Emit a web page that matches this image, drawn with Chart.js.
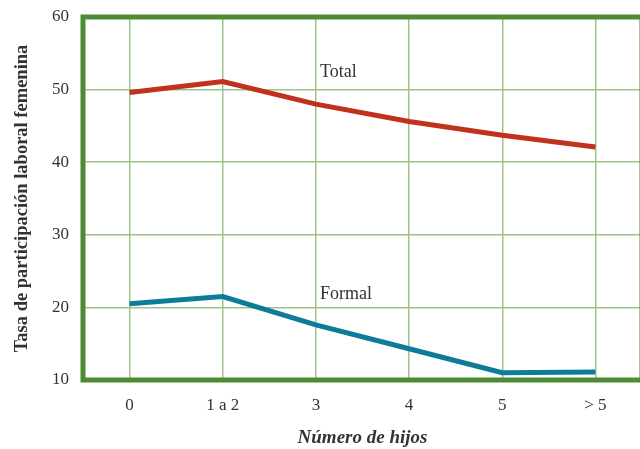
<!DOCTYPE html>
<html>
<head>
<meta charset="utf-8">
<script src="https://cdn.jsdelivr.net/npm/chart.js@4/dist/chart.umd.min.js"></script>
<style>
  html, body { margin: 0; padding: 0; background: #fff; overflow: hidden; }
  #wrap { width: 640px; height: 449px; overflow: hidden; position: relative; }
  #wrap canvas { position: absolute; left: 0; top: 0; }
</style>
</head>
<body>
<div id="wrap"><canvas id="c" width="650" height="449"></canvas></div>
<script>
// Número de hijos (categories)
const categories = ['0', '1 a 2', '3', '4', '5', '> 5'];
// Tasa de participación laboral femenina (%)
const totalRate  = [49.6, 51.1, 48.0, 45.6, 43.7, 42.1];
const formalRate = [20.5, 21.5, 17.6, 14.3, 11.0, 11.1];
// Axis range
const yMin = 10, yMax = 60, yStep = 10;
// Inline series labels: [text, category index, value]
const seriesLabels = [['Total', 2, 52.4], ['Formal', 2, 21.8]];

const FRAME = '#4f8a35';
const GRID = '#9dc38b';
const TEXT = '#333333';
const SERIF = '"Liberation Serif", "DejaVu Serif", serif';

const frameAndLabels = {
  id: 'frameAndLabels',
  afterDatasetsDraw(chart) {
    const { ctx, chartArea: a, scales: { x, y } } = chart;
    ctx.save();
    ctx.strokeStyle = FRAME;
    ctx.lineWidth = 5;
    ctx.strokeRect(a.left, a.top, a.right - a.left, a.bottom - a.top);
    ctx.fillStyle = TEXT;
    ctx.font = '18px ' + SERIF;
    ctx.textAlign = 'left';
    ctx.textBaseline = 'middle';
    seriesLabels.forEach(([t, i, v]) => {
      ctx.fillText(t, x.getPixelForValue(i) + 4, y.getPixelForValue(v));
    });
    ctx.restore();
  }
};

new Chart(document.getElementById('c'), {
  type: 'line',
  data: {
    labels: categories,
    datasets: [
      { label: 'Total', data: totalRate, borderColor: '#c2311d', borderWidth: 5, pointRadius: 0, tension: 0, fill: false },
      { label: 'Formal', data: formalRate, borderColor: '#0e7b99', borderWidth: 5, pointRadius: 0, tension: 0, fill: false }
    ]
  },
  options: {
    responsive: false,
    animation: false,
    layout: { padding: { top: 17, right: 8, left: 0, bottom: 0 } },
    plugins: { legend: { display: false }, tooltip: { enabled: false } },
    scales: {
      x: {
        offset: true,
        grid: { offset: false, color: GRID, lineWidth: 1.5, drawTicks: false },
        border: { display: false },
        ticks: { color: TEXT, font: { family: SERIF, size: 17 }, padding: 15 },
        title: { display: true, text: 'Número de hijos', color: TEXT, font: { family: SERIF, size: 19, weight: 'bold', style: 'italic' }, padding: { top: 11, bottom: 0 } },
        afterFit(s) { s.height = 69; s.paddingLeft = 0; s.paddingRight = 0; }
      },
      y: {
        min: yMin, max: yMax,
        grid: { color: GRID, lineWidth: 1.5, drawTicks: false },
        border: { display: false },
        ticks: { stepSize: yStep, color: TEXT, font: { family: SERIF, size: 17 }, padding: 14 },
        title: { display: true, text: 'Tasa de participación laboral femenina', color: TEXT, font: { family: SERIF, size: 18.5, weight: 'bold' }, padding: { top: 11, bottom: 4 } },
        afterFit(s) { s.width = 83; s.paddingTop = 0; s.paddingBottom = 0; }
      }
    }
  },
  plugins: [frameAndLabels]
});
</script>
</body>
</html>
